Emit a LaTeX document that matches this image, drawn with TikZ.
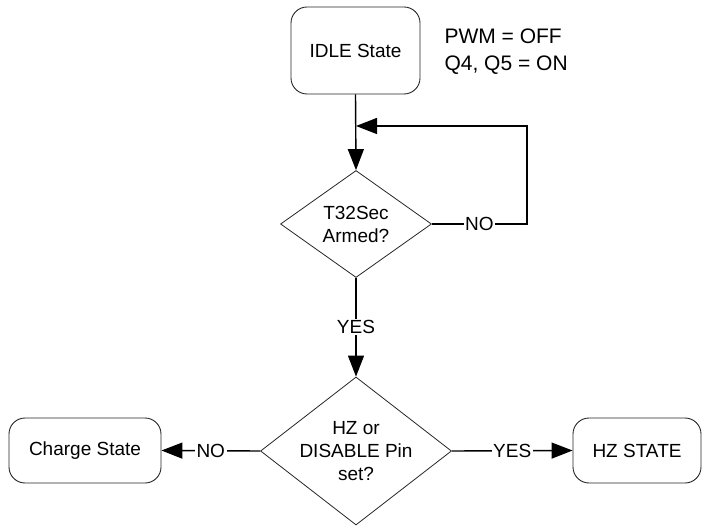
\documentclass[tikz,border=0pt]{standalone}
\usepackage{fontspec}
\setmainfont{Liberation Sans}
\usetikzlibrary{arrows.meta, shapes.geometric}

\begin{document}
\begin{tikzpicture}[
    x=1pt, y=1pt,
    >={Triangle[length=21pt, width=16pt]},
    font=\fontsize{19}{23}\selectfont,
    statebox/.style={
        draw=black!85, line width=0.9pt, rounded corners=16pt,
        align=center, inner sep=0pt
    },
    decision/.style={
        diamond, draw=black!85, line width=0.8pt, align=center,
        inner sep=-4pt, shape aspect=1.3
    },
    arr/.style={->, line width=1.4pt, black},
    lbl/.style={fill=white, inner sep=1.5pt},
]
\useasboundingbox (0,0) rectangle (706,525);

%% Idle state and its note
\node[statebox, minimum width=129pt, minimum height=87pt] (idle) at (355.5, 474.5)
    {IDLE State};
\node[anchor=west, align=left, font=\fontsize{21}{25}\selectfont] (note) at (441, 473.5)
    {PWM = OFF\\[2pt]Q4, Q5 = ON};

%% Timer check
\node[decision, minimum width=151pt, minimum height=107pt] (armed) at (356, 301)
    {T32Sec\\Armed?};
\coordinate (loopin) at (356, 399);

\draw[arr] (idle.south) -- (armed.north);
\draw[arr] (armed.east) -- node[lbl] (armedno) {NO} (527, 301) |- (loopin);

%% Pin check
\node[decision, minimum width=191pt, minimum height=148pt] (pin) at (356, 74)
    {HZ or\\DISABLE Pin\\set?};

\draw[arr] (armed.south) -- node[lbl] (armedyes) {YES} (pin.north);

%% Outcomes
\node[statebox, minimum width=152pt, minimum height=65pt] (charge) at (85, 74.5)
    {Charge State};
\node[statebox, minimum width=128pt, minimum height=65pt] (hz) at (637, 74.5)
    {HZ STATE};

\draw[arr] (pin.west) -- node[lbl] (pinno) {NO} (charge.east);
\draw[arr] (pin.east) -- node[lbl] (pinyes) {YES} (hz.west);

\end{tikzpicture}
\end{document}
